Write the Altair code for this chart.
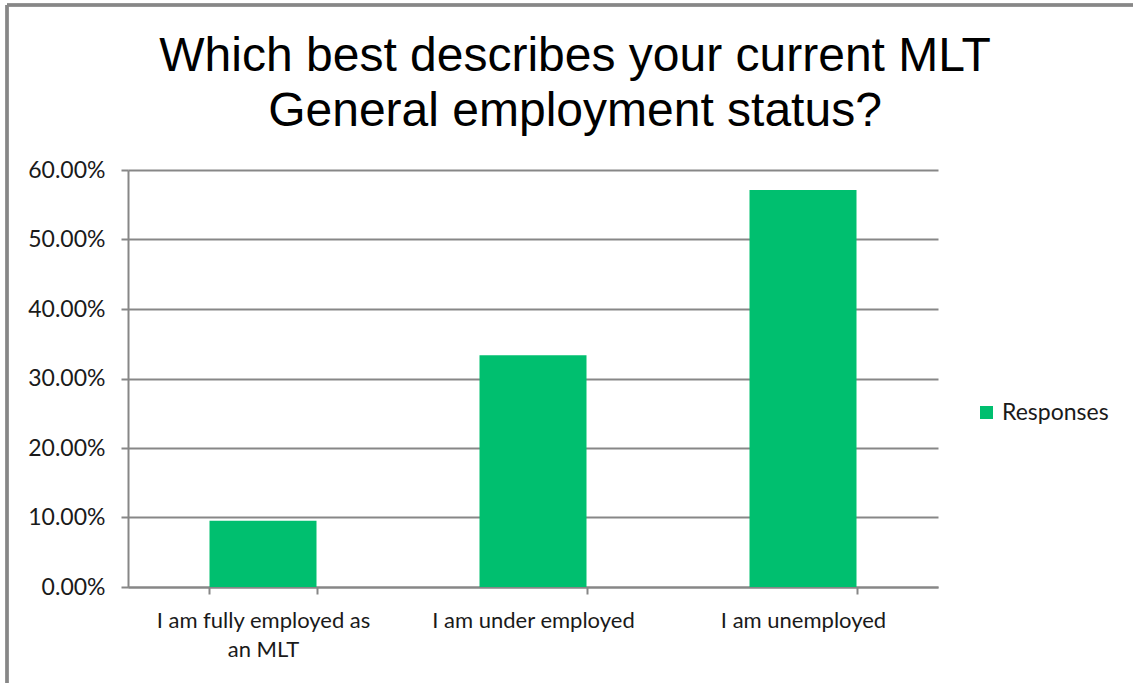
import altair as alt
import pandas as pd

categories = ["I am fully employed as\nan MLT", "I am under employed", "I am unemployed"]
values = [0.0952, 0.3333, 0.5714]
series = ["Responses", "Responses", "Responses"]
title_lines = ["Which best describes your current MLT", "General employment status?"]

df = pd.DataFrame({"category": categories, "value": values, "series": series})

GRAY = "#878787"
W, H = 810, 417

bars = alt.Chart(df).mark_bar(color="#00BF6F", size=107).encode(
    x=alt.X("category:N", sort=categories, title=None,
            scale=alt.Scale(paddingInner=0.6, paddingOuter=0.3),
            axis=alt.Axis(labelExpr="split(datum.label, '\\n')", labelAngle=0,
                          labelFontSize=22, labelFont="Lato", labelColor="#1a1a1a",
                          labelPadding=16, labelLineHeight=29, labelLimit=400,
                          domainColor=GRAY, domainWidth=2, tickColor=GRAY, tickWidth=2,
                          tickSize=7, tickBand="extent", grid=False)),
    y=alt.Y("value:Q", title=None,
            scale=alt.Scale(domain=[0, 0.6], nice=False),
            axis=alt.Axis(format=".2%", values=[0, 0.1, 0.2, 0.3, 0.4, 0.5, 0.6],
                          labelFontSize=23, labelFont="Lato", labelColor="#1a1a1a",
                          labelPadding=16, domainColor=GRAY, domainWidth=2,
                          tickColor=GRAY, tickWidth=2, tickSize=7,
                          gridColor=GRAY, gridWidth=2)),
    fill=alt.Fill("series:N", scale=alt.Scale(range=["#00BF6F"]),
                  legend=alt.Legend(title=None, orient="none", legendX=847, legendY=231,
                                    symbolType="square", symbolSize=170,
                                    labelFontSize=23, labelFont="Lato",
                                    labelColor="#1a1a1a", symbolStrokeWidth=0)),
)

frame_top = alt.Chart(df).mark_rule(color=GRAY, strokeWidth=3).encode(
    x=alt.value(-121), x2=alt.value(W + 200), y=alt.value(-165))
frame_left = alt.Chart(df).mark_rule(color=GRAY, strokeWidth=3).encode(
    x=alt.value(-121), y=alt.value(-165), y2=alt.value(H + 100))

title = alt.Chart(df).transform_aggregate(n="count()").mark_text(
    fontSize=48, font="Liberation Sans", color="#000000", lineHeight=55,
    align="center", baseline="alphabetic").encode(
    x=alt.value(W / 2 + 42), y=alt.value(-99), text=alt.value(title_lines))

chart = alt.layer(bars, frame_top, frame_left, title).properties(
    width=W, height=H,
    autosize=alt.AutoSizeParams(type="none"),
    padding={"left": 128, "top": 170, "right": 195, "bottom": 96},
).configure_view(stroke=None)

chart.save("out.html", embed_options={"renderer": "svg", "actions": False})
